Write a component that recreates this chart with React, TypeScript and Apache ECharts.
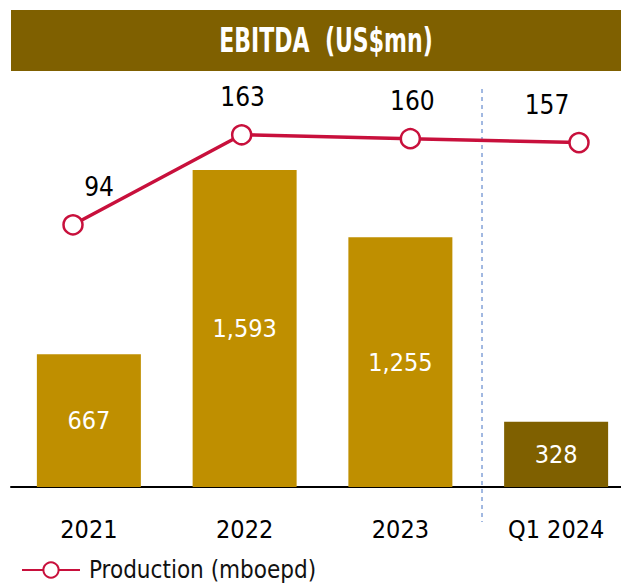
import React, { useEffect, useRef } from "react";
import * as echarts from "echarts";

const categories = ["2021", "2022", "2023", "Q1 2024"];
const ebitda = [667, 1593, 1255, 328];
const production = [94, 163, 160, 157];
const productionLabelOffsetX = [26, 1, 2, -32];
const title = "EBITDA  (US$mn)";
const legendName = "Production (mboepd)";

const FONT = "'DejaVu Sans Condensed', 'DejaVu Sans', sans-serif";
const GOLD = "#BF8F00";
const DARK_GOLD = "#7F6000";
const RED = "#C8103C";

export default function App() {
  const ref = useRef<HTMLDivElement>(null);
  useEffect(() => {
    if (!ref.current) return;
    const chart = echarts.init(ref.current, null, { renderer: "svg" });
    chart.setOption({
      animation: false,
      textStyle: { fontFamily: FONT },
      grid: [
        { left: 11, right: -13, top: 80, bottom: 96, outerBoundsMode: "none", containLabel: false },
        { left: 73, right: 42, top: 80, bottom: 96, outerBoundsMode: "none", containLabel: false },
      ],
      legend: {
        data: [legendName],
        left: 16,
        top: 553,
        itemWidth: 58,
        itemHeight: 19,
        textStyle: { fontFamily: FONT, fontSize: 24, color: "#111", padding: [0, 0, 0, 4] },
      },
      xAxis: [
        {
          type: "category",
          gridIndex: 0,
          data: categories,
          axisLine: { lineStyle: { color: "#000", width: 2 } },
          axisTick: { show: false },
          axisLabel: { fontFamily: FONT, fontSize: 25, color: "#000", margin: 30 },
        },
        {
          type: "category",
          gridIndex: 1,
          data: categories,
          boundaryGap: false,
          show: false,
        },
      ],
      yAxis: [
        { type: "value", gridIndex: 0, min: 0, max: 2045, show: false, splitLine: { show: false } },
        { type: "value", gridIndex: 1, min: -107, max: 205, show: false, splitLine: { show: false } },
      ],
      series: [
        {
          type: "bar",
          xAxisIndex: 0,
          yAxisIndex: 0,
          barWidth: 104,
          data: ebitda.map((v, i) => ({
            value: v,
            itemStyle: { color: i === ebitda.length - 1 ? DARK_GOLD : GOLD },
          })),
          label: {
            show: true,
            position: "inside",
            color: "#fff",
            fontFamily: FONT,
            fontSize: 25,
            formatter: (p: any) => Number(p.value).toLocaleString("en-US"),
          },
        },
        {
          type: "line",
          name: legendName,
          xAxisIndex: 1,
          yAxisIndex: 1,
          data: production.map((v, i) => ({
            value: v,
            label: { offset: [productionLabelOffsetX[i], -38] },
          })),
          symbol: "circle",
          symbolSize: 19,
          lineStyle: { color: RED, width: 3.5 },
          itemStyle: { color: "#fff", borderColor: RED, borderWidth: 2.5 },
          label: {
            show: true,
            position: "inside",
            color: "#000",
            fontFamily: FONT,
            fontSize: 26,
          },
          z: 3,
        },
      ],
      graphic: [
        {
          type: "rect",
          shape: { x: 11, y: 10, width: 610, height: 61 },
          style: { fill: DARK_GOLD },
        },
        {
          type: "text",
          x: 326,
          y: 41,
          scaleX: 0.72,
          style: {
            text: title,
            fill: "#fff",
            font: `bold 34px ${FONT}`,
            textAlign: "center",
            textVerticalAlign: "middle",
          },
        },
        {
          type: "line",
          shape: { x1: 482, y1: 89, x2: 482, y2: 522 },
          style: { stroke: "#4472C4", lineWidth: 1, lineDash: [4, 4] },
          z: 1,
        },
      ],
    });
    return () => chart.dispose();
  }, []);
  return (
    <div
      ref={ref}
      style={{ position: "fixed", left: 0, top: 0, width: 621, height: 583, background: "#fff" }}
    />
  );
}
